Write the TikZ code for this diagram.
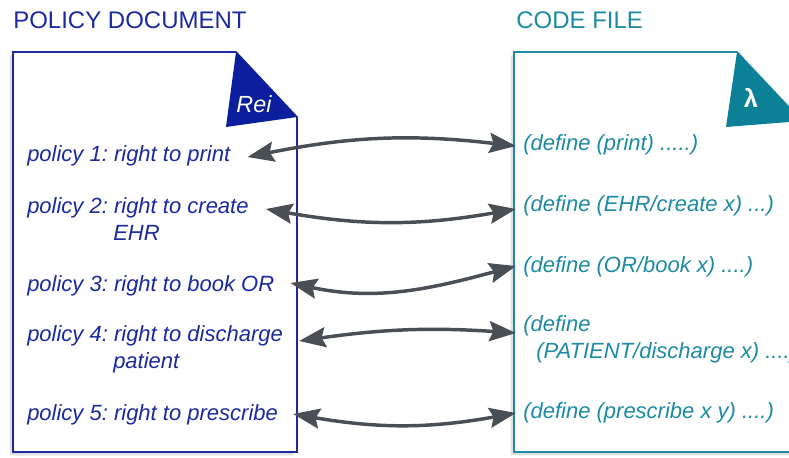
\documentclass[tikz,border=0pt]{standalone}
\usepackage{fontspec}
\setmainfont{Liberation Sans}
\usepackage{xcolor}
\definecolor{1b2a9f}{HTML}{1B2A9F}
\definecolor{0b1f9e}{HTML}{0B1F9E}
\definecolor{1d8ba3}{HTML}{1D8BA3}
\definecolor{0b8096}{HTML}{0B8096}
\definecolor{4a4e55}{HTML}{4A4E55}
\usepackage{tikz}
\usetikzlibrary{arrows.meta,shadows}
\frenchspacing

\begin{document}
\begin{tikzpicture}[x=0.75pt, y=0.75pt,
        policy/.style={anchor=base west, inner sep=0pt, align=left, text=1b2a9f,
            font=\fontsize{16.5}{20}\selectfont\itshape},
        code/.style={anchor=base west, inner sep=0pt, align=left, text=1d8ba3,
            font=\fontsize{16.5}{20}\selectfont\itshape},
        heading/.style={anchor=base west, inner sep=0pt, font=\fontsize{18}{18}\selectfont},
        page/.style={fill=white, line width=1.2pt,
            drop shadow={shadow xshift=-2.5pt, shadow yshift=-2.5pt, opacity=0.25}},
        link/.style={draw=4a4e55, line width=2.6pt, <->,
            >={Stealth[length=20pt, width=15pt, inset=3pt]}}]
                        \useasboundingbox (0,0) rectangle (789,-457);

                        % the two sheets
                        \draw[page, draw=1b2a9f] (13,-52) -- (236,-52) -- (297,-117) -- (297,-452) -- (13,-452) -- cycle;
                        \fill[0b1f9e] (236,-52) -- (297,-117) -- (226,-127) -- cycle;
                        \node (rei) at (254,-104) [text=white, font=\fontsize{17.5}{17.5}\selectfont\itshape] {Rei};

                        \begin{scope}
                            \clip (0,0) rectangle (789,-457);
                            \draw[page, draw=1d8ba3] (514,-52) -- (737,-52) -- (802,-121) -- (802,-452) -- (514,-452) -- cycle;
                            \fill[0b8096] (737,-52) -- (802,-121) -- (726,-127) -- cycle;
                        \end{scope}
                        \node (lambda) at (751,-98) [text=white, font=\fontsize{19}{19}\selectfont\bfseries] {λ};

                        \node (poltitle) at (13,-28) [heading, text=1b2a9f] {POLICY DOCUMENT};
                        \node (codetitle) at (516,-28) [heading, text=1d8ba3] {CODE FILE};

                        % policies (base of a two-line node is its last line)
                        \node (p1) at (27,-161) [policy] {policy 1: right to print};
                        \node (p2) at (27,-240) [policy] {policy 2: right to create\\\hspace*{64.5pt}EHR};
                        \node (p3) at (27,-291) [policy] {policy 3: right to book OR};
                        \node (p4) at (27,-368) [policy] {policy 4: right to discharge\\\hspace*{64.5pt}patient};
                        \node (p5) at (27,-420) [policy] {policy 5: right to prescribe};

                        % code
                        \node (d1) at (523,-150) [code] {(define (print) .....)};
                        \node (d2) at (523,-211) [code] {(define (EHR/create x) ...)};
                        \node (d3) at (523,-272) [code] {(define (OR/book x) ....)};
                        \node (d4) at (523,-358) [code] {(define\\\hspace*{9.75pt}(PATIENT/discharge x) ....)};
                        \node (d5) at (523,-418) [code] {(define (prescribe x y) ....)};

                        \draw[link] ([shift={(17,4)}]p1.base east) to [bend left=9] ([shift={(-7,4)}]d1.base west);
                        \draw[link] ([shift={(17,31)}]p2.base east) to [bend right=10] ([shift={(-7,2)}]d2.base west);
                        \draw[link] ([shift={(16,8)}]p3.base east) to [out=-12, in=195] ([shift={(-7,6)}]d3.base west);
                        \draw[link] ([shift={(16,27)}]p4.base east) to [bend left=6] ([shift={(-7,25)}]d4.base west);
                        \draw[link] ([shift={(15,6)}]p5.base east) to [bend right=10] ([shift={(-7,5)}]d5.base west);
                    \end{tikzpicture}
\end{document}
